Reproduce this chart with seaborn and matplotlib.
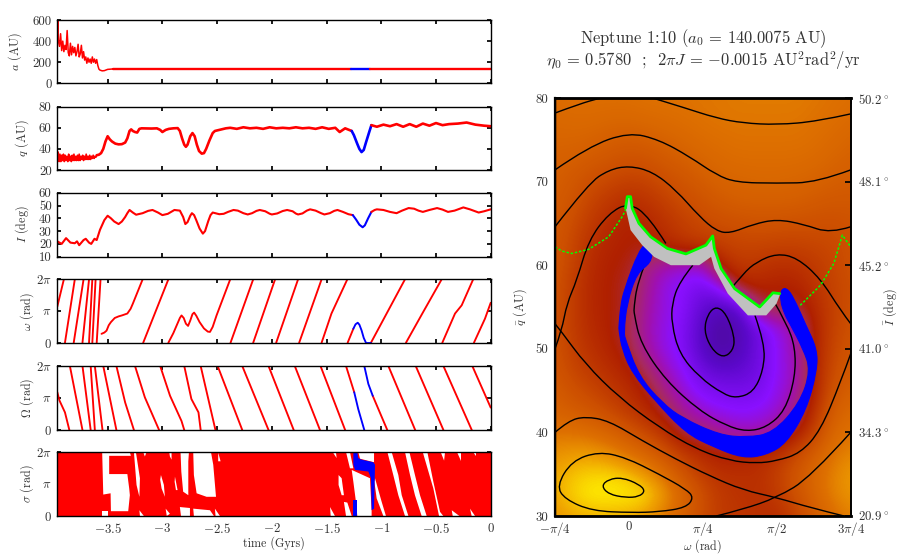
import numpy as np
import pandas as pd
import seaborn as sns
import matplotlib
matplotlib.use("Agg")
import matplotlib.pyplot as plt
from matplotlib.colors import LinearSegmentedColormap
from matplotlib.path import Path
from matplotlib.patches import PathPatch

RED = "#ff0000"
BLUE = "#0000ff"
GREEN = "#00ff00"
GREY = "#c0c0c0"
TXT = "#333333"

# ------------------- left panels: time (Gyr) ----------------------------
a_t = [-3.96,-3.955,-3.95,-3.94,-3.93,-3.92,-3.91,-3.90,-3.89,-3.88,-3.87,-3.86,-3.85,-3.84,-3.83,-3.82,-3.81,-3.80,-3.79,-3.78,-3.77,-3.76,-3.75,-3.74,-3.73,-3.72,-3.71,-3.70,-3.69,-3.68,-3.67,-3.66,-3.65,-3.64,-3.63,-3.62,-3.61,-3.60,-3.59,-3.58,-3.57,-3.55,-3.53,-3.50,-3.45]
a_v = [480,600,400,350,470,310,400,300,360,320,500,290,260,380,270,350,290,340,260,300,370,250,280,360,240,300,220,250,190,240,200,230,190,250,200,230,190,225,170,135,125,118,120,132,136]
a_mid_t = [-3.45,-3.0,-2.5,-2.0,-1.28]
a_mid_v = [136,136,136,136,136]
a_blue_t = [-1.28,-1.10]
a_blue_v = [136,136]
a_end_t = [-1.10,-0.5,0]
a_end_v = [136,136,136]

q_noise_t = [-3.96,-3.952,-3.944,-3.936,-3.928,-3.92,-3.912,-3.904,-3.896,-3.888,-3.88,-3.872,-3.864,-3.856,-3.848,-3.84,-3.832,-3.824,-3.816,-3.808,-3.8,-3.792,-3.784,-3.776,-3.768,-3.76,-3.752,-3.744,-3.736,-3.728,-3.72,-3.712,-3.704,-3.696,-3.688,-3.68,-3.672,-3.664,-3.656,-3.648,-3.64,-3.632,-3.624,-3.616,-3.608,-3.6]
q_noise_v = [30,37,28,35,28,34,29,35,28,34,29,33,28,35,29,33,28,34,29,35,29,33,29,34,29,35,29,33,30,34,29,33,30,35,30,33,30,34,30,33,31,34,31,33,32,34]
q_t = [-3.6,-3.58,-3.56,-3.54,-3.52,-3.5,-3.48,-3.46,-3.43,-3.4,-3.37,-3.34,-3.32,-3.3,-3.285,-3.27,-3.25,-3.23,-3.21,-3.19,-3.1,-3.05,-3.02,-3,-2.97,-2.94,-2.9,-2.86,-2.84,-2.82,-2.8,-2.785,-2.77,-2.745,-2.725,-2.705,-2.685,-2.665,-2.64,-2.62,-2.6,-2.57,-2.54,-2.52,-2.48,-2.42,-2.38,-2.32,-2.26,-2.2,-2.14,-2.08,-2.02,-1.96,-1.9,-1.84,-1.78,-1.72,-1.66,-1.6,-1.54,-1.48,-1.42,-1.38,-1.33,-1.27]
q_v = [34,34.5,36,40,47,52,49,47,45,44.3,44.5,46,50,57,58.5,57,56,55.5,59,59.5,59.3,59.5,58,56,58,59,59.5,59.7,57,50,44,42,44,52,55,52,44,38,35.5,36,40,48,55,57,58,59.5,60,59,60.5,59.5,60,59,60.5,59.5,60,59.5,60.5,59.5,60,59,60.5,59,60,56,59.5,57]
q_blue_t = [-1.27,-1.25,-1.22,-1.2,-1.18,-1.16,-1.14,-1.11,-1.09]
q_blue_v = [57,53,45,40,37,39,46,56,62.5]
q_end_t = [-1.09,-1.04,-0.98,-0.92,-0.86,-0.8,-0.74,-0.68,-0.62,-0.56,-0.5,-0.44,-0.38,-0.3,-0.22,-0.14,-0.06,0]
q_end_v = [62.5,61,63,61.5,63.5,61,63.5,61,64,62,64.5,62.5,63.5,64,65,63,62,61.5]

i_t = [-3.96,-3.92,-3.88,-3.84,-3.8,-3.78,-3.76,-3.72,-3.7,-3.67,-3.65,-3.62,-3.6,-3.57,-3.53,-3.5,-3.47,-3.44,-3.4,-3.37,-3.34,-3.32,-3.3,-3.27,-3.24,-3.18,-3.13,-3.09,-3.04,-3,-2.95,-2.89,-2.84,-2.81,-2.79,-2.77,-2.745,-2.73,-2.71,-2.69,-2.66,-2.63,-2.61,-2.58,-2.56,-2.54,-2.48,-2.44,-2.4,-2.35,-2.31,-2.26,-2.22,-2.18,-2.14,-2.11,-2.06,-2.02,-2,-1.95,-1.9,-1.86,-1.81,-1.78,-1.76,-1.72,-1.68,-1.65,-1.6,-1.55,-1.52,-1.47,-1.43,-1.4,-1.35,-1.3,-1.26]
i_v = [22,20,24.5,21,20.5,22,19,23,24,21,20,24,23,31,38.6,42,40,37.5,35.5,37.5,41,44,46.5,44.5,42.8,44,45.8,46.5,44.5,42.5,43.5,46.5,46,41,35.5,37,42,44,42.5,38.5,32,28,30,38,42.5,44.5,43.2,43.5,45,46.5,46,44,43,44,45.8,46.5,45.5,43.6,43,43.8,45.7,46.5,45.5,43.7,43,43.8,46,47,46,44,43,44,45.8,46.5,45,43.2,42.5]
i_blue_t = [-1.26,-1.23,-1.2,-1.17,-1.15,-1.12,-1.09]
i_blue_v = [42.5,39,35,33,34.5,40,45]
i_end_t = [-1.09,-1.06,-1.04,-.98,-.92,-.86,-.81,-.75,-.70,-.66,-.62,-.56,-.49,-.44,-.39,-.33,-.25,-.19,-.11,-.06,0]
i_end_v = [45,46.5,47,46.5,45,44,46,48,47.5,46,45,46.5,48,46.8,45,46,48.5,47,44.5,45.5,47]

# omega and Omega, in units of pi, one list per wrap of the angle
omega_red = [
    ([-3.96,-3.90],[1.14,2]), ([-3.89,-3.80],[0,2]), ([-3.81,-3.72],[0,2]), ([-3.73,-3.67],[0,2]),
    ([-3.67,-3.64],[0,2]), ([-3.64,-3.61],[0,2]), ([-3.60,-3.565],[0,2]),
    ([-3.556,-3.53,-3.51,-3.49,-3.47,-3.435,-3.4,-3.37,-3.32,-3.29,-3.27,-3.18],[.28,.32,.38,.55,.65,.78,.83,.86,.92,1.07,1.23,2]),
    ([-3.175,-2.945],[0,2]),
    ([-2.945,-2.9,-2.86,-2.84,-2.825,-2.805,-2.785,-2.765,-2.745,-2.725,-2.71,-2.69,-2.66,-2.62,-2.585,-2.565,-2.54,-2.505,-2.38],[0,.3,.62,.78,.86,.78,.6,.53,.7,.9,.95,.85,.65,.45,.35,.34,.5,.86,2]),
    ([-2.377,-2.17],[0,2]), ([-2.17,-1.97],[0,2]), ([-1.96,-1.76],[0,2]), ([-1.75,-1.545],[0,2]),
    ([-1.545,-1.455,-1.31],[0,.92,2]), ([-1.307,-1.255],[0,.44]),
    ([-1.094,-.783],[0,2]), ([-.774,-.62,-.448],[0,.95,2]),
    ([-.442,-.326,-.265,-.16],[0,.92,1.18,2]), ([-.153,-.052,0],[0,.76,1.26]),
]
omega_blue = [
    ([-1.255,-1.235,-1.215,-1.2,-1.18,-1.16,-1.14],[.44,.58,.63,.57,.39,.15,0]),
    ([-1.14,-1.094],[0,0]),
    ([-1.125,-1.105],[2,2]),
]
node_red = [
    ([-3.96,-3.94,-3.89,-3.85],[1.18,.92,.55,0]), ([-3.845,-3.73],[2,0]), ([-3.73,-3.655],[2,0]),
    ([-3.655,-3.617],[2,0]), ([-3.617,-3.547],[2,0]), ([-3.54,-3.42],[2,0]),
    ([-3.42,-3.34,-3.26],[2,.86,0]), ([-3.25,-3.16,-3.03],[2,1.02,0]),
    ([-3.02,-2.93,-2.825,-2.80],[2,1.07,.28,0]), ([-2.80,-2.735,-2.67,-2.65],[2,.97,.55,0]),
    ([-2.65,-2.515],[2,0]), ([-2.495,-2.27],[2,0]), ([-2.27,-2.03],[2,0]), ([-2.03,-1.80],[2,0]),
    ([-1.79,-1.56],[2,0]), ([-1.555,-1.33],[2,0]), ([-1.322,-1.247],[2,1.18]),
    ([-1.078,-.945],[1.07,0]), ([-.935,-.69],[2,0]), ([-.685,-.432],[2,0]), ([-.432,-.173],[2,0]),
    ([-.168,0],[2,.7]),
]
node_blue = [
    ([-1.247,-1.21,-1.155],[1.18,.65,0]),
    ([-1.155,-1.118,-1.078],[2,1.44,1.07]),
]
# sigma, units of pi: the libration angle covers everything but these empty areas
sigma_cover_t = [-3.96,0]
sigma_gaps = [
    ([-3.55,-3.297,-3.288,-3.486,-3.486,-3.32,-3.303,-3.297,-3.312,-3.47,-3.473,-3.54],[2,2,1.88,1.88,1.31,1.31,.86,.65,.15,.15,.71,.67]),
    ([-3.55,-3.495,-3.495,-3.55],[.15,.15,0,0]),
    ([-3.26,-3.242,-3.205,-3.21,-3.236],[2,2,1.18,.6,.97]),
    ([-3.21,-3.169,-3.205],[.18,0,0]),
    ([-3.175,-3.144,-3.16],[2,2,1.86]),
    ([-3.013,-2.986,-2.977,-3.007,-3.02],[1.28,.97,.6,.86,1.13]),
    ([-2.885,-2.861,-2.876,-2.888],[1.23,.81,.81,1.07]),
    ([-2.834,-2.757,-2.763,-2.763,-2.81,-2.827],[2,2,1.71,.65,.76,1.39]),
    ([-2.718,-2.556,-2.535,-2.51,-2.596,-2.687,-2.712],[2,2,1.6,.6,.6,.71,1.28]),
    ([-2.84,-2.748,-2.748,-2.83],[.28,.25,0,0]),
    ([-2.718,-2.565,-2.529,-2.712],[.23,.18,0,0]),
    ([-2.97,-2.931,-2.96],[.23,.07,0]),
    ([-2.49,-2.468,-2.49],[1.98,1.71,1.71]),
    ([-2.52,-2.474,-2.514],[.23,0,0]),
    ([-2.937,-2.916,-2.916,-2.931],[2,2,1.76,1.86]),
    ([-1.444,-1.414,-1.408],[2,2,1.81]),
    ([-1.322,-1.286,-1.255,-1.286],[2,2,1.49,1.49]),
    ([-1.39,-1.362,-1.341,-1.362,-1.39],[1.28,1.18,.65,.65,.97]),
    ([-1.468,-1.423,-1.462],[.28,0,0]),
    ([-1.341,-1.31,-1.27,-1.322],[.44,.42,0,0]),
    ([-1.21,-1.066,-1.066,-1.194],[2,2,1.68,1.79]),
    ([-1.27,-1.103,-1.088,-1.088,-1.219,-1.231,-1.255],[1.44,1.18,.18,0,0,.44,1.07]),
    ([-.944,-.905,-.844,-.813,-.752,-.783,-.844,-.89],[2,2,1.28,.65,0,0,.65,1.28]),
    ([-.783,-.743,-.692,-.646,-.585,-.631,-.692,-.737],[2,2,1.28,.65,0,0,.65,1.28]),
    ([-.621,-.579,-.524,-.463,-.433,-.472,-.524],[2,2,1.07,.13,0,0,.86]),
    ([-1.057,-.996,-.957,-.981,-1.042,-1.063],[1.18,.44,0,0,.55,1.07]),
    ([-.457,-.417,-.426],[2,2,1.73]),
    ([-.311,-.268,-.268],[2,2,1.71]),
    ([-.158,-.134,-.134],[2,2,1.86]),
    ([-.356,-.286,-.347],[.18,0,0]),
    ([-.189,-.143,-.174],[.23,0,0]),
]
sigma_blue = [
    ([-1.255,-1.219,-1.21,-1.179,-1.072,-1.057,-1.066,-1.088,-1.094,-1.118,-1.24,-1.255],[2,2,1.81,1.76,1.68,1.6,.23,.18,1.18,1.39,1.44,1.6]),
    ([-1.255,-1.219,-1.219,-1.255],[.49,.49,0,0]),
]

time_ticks = [-3.5,-3,-2.5,-2,-1.5,-1,-0.5,0]
time_labels = ["$-3.5$","$-3$","$-2.5$","$-2$","$-1.5$","$-1$","$-0.5$","$0$"]
a_ticks, q_ticks, i_ticks = [0,200,400,600], [20,40,60,80], [10,20,30,40,50,60]
angle_ticks = [0, 1, 2]
angle_labels = ["$0$", r"$\pi$", r"$2\pi$"]

# ------------------- right panel: omega in degrees, q in AU --------------
field_w = [-45,-33.75,-22.5,-11.25,0,11.25,22.5,33.75,45,56.25,67.5,78.75,90,101.25,112.5,123.75,135]
field_q = [80,77.5,75,72.5,70,67.5,65,62.5,60,57.5,55,52.5,50,47.5,45,42.5,40,37.5,35,32.5,30]
field = [
 [.78,.79,.79,.79,.79,.80,.80,.80,.81,.81,.82,.82,.82,.82,.81,.80,.79],
 [.76,.77,.77,.76,.76,.77,.78,.79,.80,.81,.81,.81,.81,.81,.80,.79,.77],
 [.75,.75,.74,.72,.71,.72,.74,.76,.78,.79,.80,.80,.80,.80,.79,.77,.75],
 [.73,.72,.70,.68,.66,.67,.70,.72,.75,.77,.78,.78,.78,.78,.77,.75,.73],
 [.72,.69,.65,.62,.60,.61,.65,.68,.71,.74,.75,.76,.76,.75,.74,.72,.71],
 [.71,.67,.61,.57,.54,.56,.60,.64,.67,.70,.72,.72,.72,.72,.70,.69,.69],
 [.70,.64,.58,.53,.50,.52,.56,.60,.63,.65,.66,.67,.67,.66,.66,.65,.67],
 [.69,.62,.55,.51,.50,.50,.53,.57,.59,.60,.62,.62,.61,.61,.62,.63,.66],
 [.68,.61,.53,.50,.49,.38,.33,.30,.30,.52,.58,.57,.55,.55,.58,.62,.66],
 [.67,.59,.52,.50,.46,.36,.27,.24,.20,.28,.50,.52,.50,.51,.56,.61,.65],
 [.67,.59,.52,.50,.46,.34,.28,.24,.14,.10,.14,.42,.47,.44,.53,.60,.66],
 [.66,.59,.53,.50,.44,.33,.27,.22,.11,.02,.08,.18,.27,.34,.50,.61,.66],
 [.67,.60,.55,.51,.46,.34,.27,.22,.11,.03,.09,.18,.26,.33,.50,.62,.68],
 [.68,.62,.58,.54,.50,.42,.31,.25,.17,.13,.14,.18,.26,.31,.50,.64,.70],
 [.71,.66,.62,.58,.54,.48,.38,.28,.23,.21,.20,.21,.27,.33,.50,.67,.73],
 [.74,.71,.68,.63,.58,.53,.45,.36,.29,.26,.25,.26,.29,.38,.55,.71,.77],
 [.80,.80,.78,.74,.68,.62,.55,.44,.42,.36,.32,.32,.38,.48,.60,.76,.80],
 [.86,.88,.88,.85,.80,.74,.66,.58,.53,.50,.50,.52,.55,.62,.72,.80,.84],
 [.90,.94,.96,.96,.93,.87,.78,.67,.59,.55,.55,.55,.60,.68,.76,.83,.88],
 [.90,.96,1.0,1.0,1.0,.97,.87,.75,.65,.58,.56,.55,.58,.66,.75,.83,.87],
 [.87,.90,.91,.91,.90,.87,.80,.72,.64,.58,.57,.55,.54,.60,.70,.78,.83],
]
levels_open = [
 [(-45,78.2),(-30,79.3),(-17.4,80.0),(0,80.9),(14.3,80.0),(32.7,78.9),(53.2,77.6),(69.5,77.0),(90,76.8),(114.5,77.2),(135,78.1)],
 [(-45,71.4),(-24.5,74.2),(0,75.9),(18.4,75),(36.8,73),(53.2,70.8),(65.4,69.9),(90,69.8),(114.5,69.9),(135,71.4)],
 [(-45,64.6),(-24.5,69.8),(-12.3,71.4),(0,71.9),(14.3,71.2),(28.6,69),(43,65.8),(53.2,64.1),(61.4,63.8),(75.7,64.9),(90,65.5),(106.3,64.9),(122.7,63.8),(135,64.6)],
 [(-45,50),(-40.9,52.2),(-37.8,55.4),(-31.7,58.2),(-24.5,63),(-12.3,66.2),(0,67.5),(12.3,65.8),(22.5,62.6)],
 [(-45,53),(-40.9,52),(-26.6,48.2),(-6.1,44.2),(18.4,40.6),(40.9,38),(61.4,36.6),(77.7,36.3),(90,36.6),(104.3,37.5),(116.6,40.2),(128.8,46),(135,49.4)],
 [(61.4,57),(69.5,59),(77.7,60.4),(90,61.4),(102.3,60.9),(116.6,58.4),(128.8,54.6),(135,53)],
 [(135,40),(110.4,34.6),(90,32.2),(69.5,30.8),(53.2,30)],
 [(-45,40),(-36.8,41.4),(-26.6,41.9),(-12.3,41.4),(8.2,39),(28.6,36.8),(49.1,34.8),(69.5,33.1),(90,32.2),(110.4,31),(130.9,30)],
 [(38.9,60),(30.7,58),(26.2,55.4),(26,53),(30.7,49.4),(42.9,46.6),(57.3,44.6),(65.4,44.1),(75.7,44.8),(81.8,47.4),(82.8,50.6),(76.7,54)],
 [(10.2,60.4),(5.1,57.8),(3.1,55),(3.1,54.2),(7.2,50.6),(22.5,46.2),(42.9,42.6),(59.3,40.8),(71.6,40.1),(83.8,40.6),(95.1,42.6),(101.2,46.6),(101.2,50.2),(96.1,53),(87.9,55.8)],
]
levels_closed = [
 [(-44,33.6),(-34.8,36.6),(-18.4,37.7),(-2,37),(18.4,35),(34.8,33.2),(39.5,32.2),(34.8,31),(18.4,30.5),(2,30.4),(-22.5,30.6),(-38.9,32)],
 [(-16.8,33.6),(-12.3,34.4),(-4.1,34.6),(6.1,33.8),(10,33),(6.1,32.3),(-2,32.2),(-12.3,32.6)],
 [(45.6,52.2),(48.1,54.2),(53.2,55.1),(59.3,54.2),(64.4,51.4),(63.4,49.8),(57.3,48.9),(50.1,50)],
]
stable_w = [-2.1,-1,1,2,6.1,13.2,23.4,34.7,46.9,51,52,56.1,64.3,79.6,87.7,91.8]
stable_q = [66.8,68.2,68.2,66.8,65,63.4,62,61.35,62.4,63.5,62,59.6,57.2,55,56.7,56.6]
grey_low_w = [91.8,89.8,83.6,72.4,60.2,52,50,42.8,25.5,15.3,8.1,1,-1.5]
grey_low_q = [56.4,55.4,54,54,56.6,59.6,61,60,60,61,62.4,64.2,66.4]
dash_left_w = [-45,-40.9,-34.8,-24.5,-12.3,-4.1,-2]
dash_left_q = [62.2,61.7,61.4,61.9,63.4,65.8,66.6]
dash_right_w = [104.3,116.6,124.7,127.8,129.9,135]
dash_right_q = [55.2,57.6,60.2,62.2,63.6,62.2]
orbit_w = [12.2,6.1,-3,-5.1,-6.1,-6.1,-4.1,2,16.3,34.7,51,69.4,83.7,95.9,108.1,114.5,114.5,107.3,102,96.9,92.8,
           92,95,98,106,110.6,104,87.7,71.4,55.1,32.6,20.4,6.1,-2,-3.1,-1.2,4.9,13.5,14.3]
orbit_q = [62.9,61.8,57,55.05,52.65,52.25,49.9,47.1,43.7,39.9,38.3,36.9,37.3,38.7,42.7,47.4,50,53,55.4,57.2,57.2,
           55.8,54,53,50,47.4,43.5,39.9,39.4,39.7,41.7,43.5,46.7,51.05,51.9,55.5,59.1,60.3,62]
w_ticks = [-45,0,45,90,135]
w_labels = [r"$-\pi/4$","$0$",r"$\pi/4$",r"$\pi/2$",r"$3\pi/4$"]
qbar_ticks = [30,40,50,60,70,80]
ibar_labels = [r"20.9$^\circ$",r"34.3$^\circ$",r"41.0$^\circ$",r"45.2$^\circ$",r"48.1$^\circ$",r"50.2$^\circ$"]

title_lines = [r"Neptune 1:10 ($a_0$ = 140.0075 AU)",
               r"$\eta_0$ = 0.5780  ;  2$\pi J$ = $-$0.0015 AU$^2$rad$^2$/yr"]

# ------------------------------------------------------------------------
sns.set_theme(style="ticks")
plt.rcParams.update({
    "font.family": ["cmr10", "DejaVu Serif"],
    "mathtext.fontset": "cm",
    "axes.unicode_minus": False,
    "axes.linewidth": 1.0,
    "axes.edgecolor": "black",
    "text.color": TXT,
    "xtick.color": "black", "ytick.color": "black",
    "xtick.labelcolor": TXT, "ytick.labelcolor": TXT,
    "xtick.labelsize": 9.3, "ytick.labelsize": 9.3,
    "axes.labelsize": 8.7, "axes.labelcolor": TXT,
    "xtick.direction": "in", "ytick.direction": "in",
    "xtick.major.size": 3.0, "ytick.major.size": 3.0,
})

W, H = 901, 554
fig = plt.figure(figsize=(W / 100, H / 100), dpi=100)


def px_axes(x0, x1, y0, y1):
    return fig.add_axes([x0 / W, 1 - y1 / H, (x1 - x0) / W, (y1 - y0) / H])


def line(ax, x, y, color, lw):
    sns.lineplot(x=x, y=y, color=color, lw=lw, sort=False, estimator=None, errorbar=None,
                 legend=False, ax=ax)


def setup(ax, yticks, ylabels, ylim, label, labelx, show_x=False):
    ax.set_xlim(-3.96, 0)
    ax.set_ylim(*ylim)
    ax.set_xticks(time_ticks)
    ax.set_xticklabels(time_labels if show_x else [])
    ax.set_yticks(yticks)
    ax.set_yticklabels(ylabels)
    ax.tick_params(top=True, right=True, pad=4)
    ax.set_ylabel(label)
    ax.yaxis.set_label_coords((labelx - 57.3) / 433.4, 0.5)
    ax.set_xlabel("")


ax_a = px_axes(57.3, 490.7, 20, 83.3)
line(ax_a, a_t, a_v, RED, 1.1)
line(ax_a, a_mid_t, a_mid_v, RED, 1.7)
line(ax_a, a_blue_t, a_blue_v, BLUE, 1.7)
line(ax_a, a_end_t, a_end_v, RED, 1.7)
setup(ax_a, a_ticks, [str(v) for v in a_ticks], (0, 600), "$a$ (AU)", 24)

ax_q = px_axes(57.3, 490.7, 106.7, 170)
line(ax_q, q_noise_t, q_noise_v, RED, 1.2)
line(ax_q, q_t, q_v, RED, 1.9)
line(ax_q, q_blue_t, q_blue_v, BLUE, 1.9)
line(ax_q, q_end_t, q_end_v, RED, 1.9)
setup(ax_q, q_ticks, [str(v) for v in q_ticks], (20, 80), "$q$ (AU)", 31)

ax_i = px_axes(57.3, 490.7, 192.7, 256.7)
line(ax_i, i_t, i_v, RED, 1.5)
line(ax_i, i_blue_t, i_blue_v, BLUE, 1.5)
line(ax_i, i_end_t, i_end_v, RED, 1.5)
setup(ax_i, i_ticks, [str(v) for v in i_ticks], (10, 60), "$I$ (deg)", 31)

ax_w = px_axes(57.3, 490.7, 279.3, 342.7)
for t, v in omega_red:
    line(ax_w, t, v, RED, 1.35)
for t, v in omega_blue:
    line(ax_w, t, v, BLUE, 1.35)
setup(ax_w, angle_ticks, angle_labels, (0, 2), r"$\omega$ (rad)", 36)

ax_n = px_axes(57.3, 490.7, 366, 430)
for t, v in node_red:
    line(ax_n, t, v, RED, 1.35)
for t, v in node_blue:
    line(ax_n, t, v, BLUE, 1.35)
setup(ax_n, angle_ticks, angle_labels, (0, 2), r"$\Omega$ (rad)", 36)

ax_s = px_axes(57.3, 490.7, 452, 516)
ax_s.fill_between(sigma_cover_t, 0, 2, color=RED, lw=0, zorder=1)
for t, v in sigma_gaps:
    ax_s.fill(t, v, color="white", lw=0, zorder=2)
for t, v in sigma_blue:
    ax_s.fill(t, v, color=BLUE, lw=0, zorder=3)
setup(ax_s, angle_ticks, angle_labels, (0, 2), r"$\sigma$ (rad)", 36, show_x=True)
ax_s.set_xlabel("time (Gyrs)", va="center")
ax_s.xaxis.set_label_coords(0.5, (516 - 543) / 64)
for sp in ax_s.spines.values():
    sp.set_zorder(5)

# right panel
cmap = LinearSegmentedColormap.from_list("phase", [
    (0.00, "#4b0a96"), (0.12, "#5a08c8"), (0.25, "#8a10ff"), (0.33, "#a010b0"),
    (0.42, "#a82a60"), (0.50, "#b02000"), (0.65, "#cc4e00"), (0.80, "#de7000"),
    (0.90, "#f0a400"), (1.00, "#fff000")])
ax_r = px_axes(555, 850.7, 98, 516)
dw = (field_w[1] - field_w[0]) / 2
dq = (field_q[0] - field_q[1]) / 2
ax_r.imshow(np.array(field), cmap=cmap, vmin=0, vmax=1, aspect="auto", interpolation="bicubic",
            interpolation_stage="data",
            extent=(field_w[0] - dw, field_w[-1] + dw, field_q[-1] - dq, field_q[0] + dq), zorder=1)


def smooth_path(pts, closed=False):
    p = np.asarray(pts, float)
    if closed:
        start = (p[-1] + p[0]) / 2
        verts, codes = [start], [Path.MOVETO]
        n = len(p)
        for i in range(n):
            verts += [p[i], (p[i] + p[(i + 1) % n]) / 2]
            codes += [Path.CURVE3, Path.CURVE3]
    else:
        verts, codes = [p[0]], [Path.MOVETO]
        for i in range(1, len(p) - 1):
            end = p[i + 1] if i == len(p) - 2 else (p[i] + p[i + 1]) / 2
            verts += [p[i], end]
            codes += [Path.CURVE3, Path.CURVE3]
    return Path(np.array(verts), codes)


for pts in levels_open:
    ax_r.add_patch(PathPatch(smooth_path(pts), fc="none", ec="black", lw=1.0, zorder=2))
for pts in levels_closed:
    ax_r.add_patch(PathPatch(smooth_path(pts, True), fc="none", ec="black", lw=1.0, zorder=2))
ax_r.add_patch(PathPatch(smooth_path(list(zip(orbit_w, orbit_q)), True), fc=BLUE, ec=BLUE, lw=0.8, zorder=3))
ax_r.fill(stable_w + grey_low_w, stable_q + grey_low_q, color=GREY, lw=0, zorder=4)
line(ax_r, stable_w, stable_q, GREEN, 2.0)
line(ax_r, dash_left_w, dash_left_q, GREEN, 1.1)
line(ax_r, dash_right_w, dash_right_q, GREEN, 1.1)
for l in ax_r.get_lines()[-2:]:
    l.set_linestyle((0, (1.6, 1.2)))
for l in ax_r.get_lines():
    l.set_zorder(5)

ax_r.set_xlim(-45, 135)
ax_r.set_ylim(30, 80)
ax_r.set_xticks(w_ticks)
ax_r.set_xticklabels(w_labels)
ax_r.set_yticks(qbar_ticks)
ax_r.set_yticklabels([str(v) for v in qbar_ticks])
ax_r.tick_params(top=True, right=False, pad=5, labelsize=9.3, length=4)
ax_r.tick_params(axis="x", pad=3)
ax_r.set_xlabel(r"$\omega$ (rad)", va="center")
ax_r.xaxis.set_label_coords(0.5, (516 - 546) / 418)
ax_r.set_ylabel(r"$\bar{q}$ (AU)")
ax_r.yaxis.set_label_coords((529 - 555) / 295.7, 0.5)
for name, lw in (("top", 2), ("bottom", 2), ("left", 1.6), ("right", 1.2)):
    ax_r.spines[name].set_linewidth(lw)
    ax_r.spines[name].set_zorder(6)
ax_r2 = ax_r.twinx()
ax_r2.set_ylim(30, 80)
ax_r2.set_yticks(qbar_ticks)
ax_r2.set_yticklabels(ibar_labels)
ax_r2.tick_params(right=True, pad=5, labelsize=9.3, length=4)
ax_r2.grid(False)
ax_r2.set_ylabel(r"$\bar{I}$ (deg)")
ax_r2.yaxis.set_label_coords((881 - 555) / 295.7, 0.5)
ax_r2.spines["right"].set_linewidth(1.2)

fig.text(703 / W, 1 - 39 / H, title_lines[0], ha="center", va="center", fontsize=11.9)
fig.text(703 / W, 1 - 61 / H, title_lines[1], ha="center", va="center", fontsize=11.9)

fig.savefig("out.png", dpi=100)
